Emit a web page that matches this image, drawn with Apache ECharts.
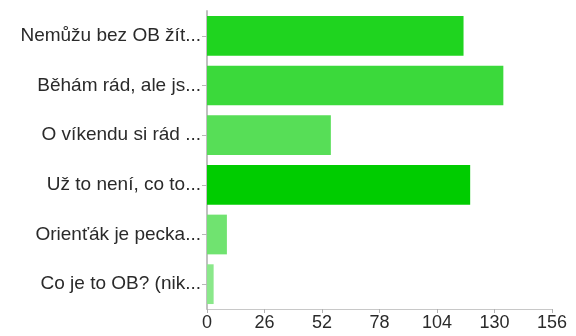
<!DOCTYPE html>
<html>
<head>
<meta charset="utf-8">
<script src="https://cdn.jsdelivr.net/npm/echarts@6/dist/echarts.min.js"></script>
<style>
  html, body { margin: 0; padding: 0; background: #fff; }
  #chart { width: 576px; height: 336px; }
</style>
</head>
<body>
<div id="chart"></div>
<script>
// Answer labels (top to bottom) and number of responses
const categories = [
  'Nemůžu bez OB žít...',
  'Běhám rád, ale js...',
  'O víkendu si rád ...',
  'Už to není, co to...',
  'Orienťák je pecka...',
  'Co je to OB? (nik...'
];
const responses = [116, 134, 56, 119, 9, 3];
const barColors = ['#1fd41f', '#3bd93b', '#57de57', '#00cc00', '#70e370', '#8ae88a'];
const xTicks = [0, 26, 52, 78, 104, 130, 156];

const labelFont = 'Liberation Sans, Arial, Helvetica, sans-serif';

const chart = echarts.init(document.getElementById('chart'), null, { renderer: 'canvas' });
chart.setOption({
  animation: false,
  grid: { left: 207, right: 24, top: 11, bottom: 27, containLabel: false },
  xAxis: {
    type: 'value',
    min: xTicks[0],
    max: xTicks[xTicks.length - 1],
    interval: xTicks[1] - xTicks[0],
    splitLine: { show: false },
    axisLine: { show: true, lineStyle: { color: '#c8c8c8', width: 1 } },
    axisTick: { show: true, length: 4, lineStyle: { color: '#b0b0b0' } },
    axisLabel: { color: '#2a2a2a', fontSize: 18, fontFamily: labelFont, margin: 5 }
  },
  yAxis: {
    type: 'category',
    inverse: true,
    data: categories,
    axisLine: { show: true, lineStyle: { color: '#c0c0c0', width: 2 } },
    axisTick: { show: true, length: 5, alignWithLabel: true, lineStyle: { color: '#b8b8b8' } },
    axisLabel: { color: '#2a2a2a', fontSize: 19, fontFamily: labelFont, margin: 6 }
  },
  series: [{
    type: 'bar',
    data: responses.map((v, i) => ({ value: v, itemStyle: { color: barColors[i] } })),
    barCategoryGap: '20%'
  }]
});
</script>
</body>
</html>
